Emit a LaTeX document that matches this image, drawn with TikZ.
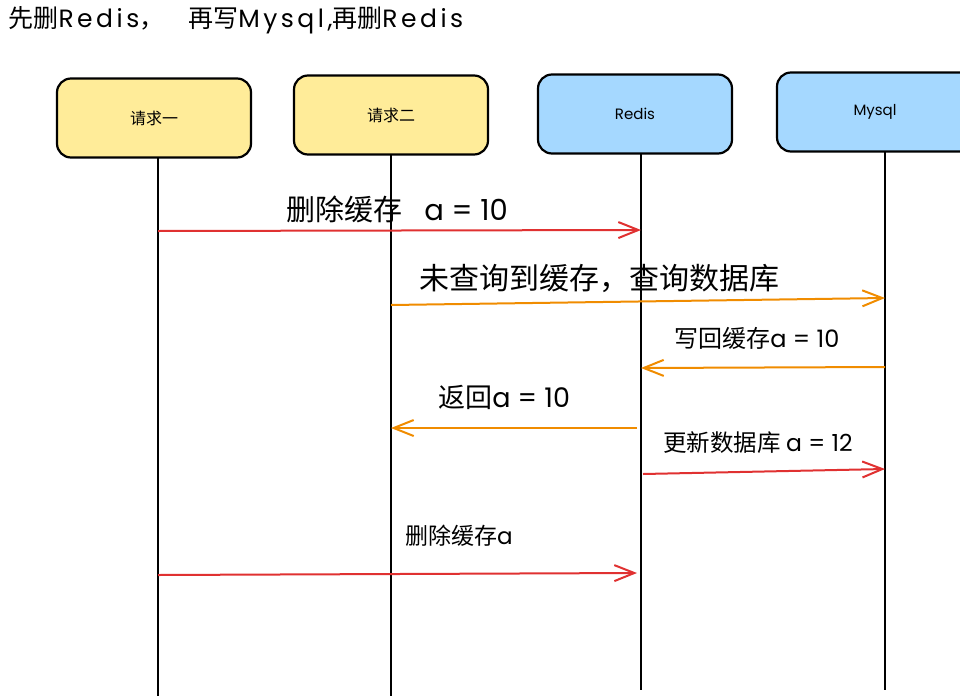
\documentclass[tikz,border=0pt]{standalone}
\usepackage{fontspec}
\setmainfont{Noto Sans CJK SC}
\newfontfamily\handlat{Poppins}
\newfontfamily\handlatwide{Poppins}[LetterSpace=14]
\usetikzlibrary{arrows.meta}
\definecolor{boxyellow}{HTML}{FFEC99}
\definecolor{boxblue}{HTML}{A5D8FF}
\definecolor{msgred}{HTML}{E03131}
\definecolor{msgorange}{HTML}{F08C00}
\begin{document}
\begin{tikzpicture}[x=1pt, y=-1pt]
	\tikzstyle{box_yellow} = [rectangle, rounded corners=14pt, draw=black, line width=2.2pt, fill=boxyellow, minimum width=194pt, minimum height=79pt, font=\fontsize{16}{16}\selectfont]
	\tikzstyle{box_blue} = [rectangle, rounded corners=14pt, draw=black, line width=2.2pt, fill=boxblue, minimum width=194pt, minimum height=79pt, font=\fontsize{15}{15}\selectfont\handlat]
	\tikzstyle{lifeline} = [draw=black, line width=2.2pt]
	\tikzstyle{msg_red} = [draw=msgred, line width=2pt, -{Straight Barb[length=20pt, width=16pt]}]
	\tikzstyle{msg_orange} = [draw=msgorange, line width=2pt, -{Straight Barb[length=20pt, width=16pt]}]

	\useasboundingbox (0,0) rectangle (960,696);

	\node[anchor=west, font=\fontsize{25}{25}\selectfont] (title) at (5,20) {先删{\handlatwide Redis}，\hspace{24pt}再写{\handlatwide Mysql,}再删{\handlatwide Redis}};

%------------------------------------------------------------
	\node[box_yellow] (req1)  at (154,118) {请求一};
	\node[box_yellow] (req2)  at (391,115) {请求二};
	\node[box_blue]   (redis) at (635,114) {Redis};
	\node[box_blue, minimum width=196pt] (mysql) at (875,112) {Mysql};

	\coordinate (req1_top)  at (158,158);  \coordinate (req1_end)  at (158,696);
	\coordinate (req2_top)  at (391,155);  \coordinate (req2_end)  at (391,696);
	\coordinate (redis_top) at (641,153);  \coordinate (redis_end) at (641,690);
	\coordinate (mysql_top) at (885,152);  \coordinate (mysql_end) at (885,690);

	\path[lifeline] (req1_top)  -- (req1_end);
	\path[lifeline] (req2_top)  -- (req2_end);
	\path[lifeline] (redis_top) -- (redis_end);
	\path[lifeline] (mysql_top) -- (mysql_end);

%------------------------------------------------------------
	\coordinate (req1_m1)  at (158,231);
	\coordinate (redis_m1) at (641,230);
	\path (req1_m1) edge[msg_red] node[pos=0.495, yshift=21pt, font=\fontsize{29}{29}\selectfont] {删除缓存\hspace{22pt}{\handlat a = 10}} (redis_m1);

	\coordinate (req2_m2)  at (391,305);
	\coordinate (mysql_m2) at (885,298);
	\path (req2_m2) edge[msg_orange] node[pos=0.423, yshift=24pt, font=\fontsize{30}{30}\selectfont] {未查询到缓存，查询数据库} (mysql_m2);

	\coordinate (mysql_m3) at (885,367);
	\coordinate (redis_m3) at (641,368);
	\path (mysql_m3) edge[msg_orange] node[pos=0.525, yshift=29pt, font=\fontsize{24}{24}\selectfont] {写回缓存{\handlat a = 10}} (redis_m3);

	\coordinate (redis_m4) at (637,428);
	\coordinate (req2_m4)  at (391,428);
	\path (redis_m4) edge[msg_orange] node[pos=0.54, yshift=31pt, font=\fontsize{27}{27}\selectfont] {返回{\handlat a = 10}} (req2_m4);

	\coordinate (redis_m5) at (643,474);
	\coordinate (mysql_m5) at (885,469);
	\path (redis_m5) edge[msg_red] node[pos=0.475, yshift=29pt, font=\fontsize{23.5}{23.5}\selectfont] {更新数据库 {\handlat a = 12}} (mysql_m5);

	\coordinate (req1_m6)  at (158,575);
	\coordinate (redis_m6) at (637,573);
	\path (req1_m6) edge[msg_red] node[pos=0.628, yshift=38pt, font=\fontsize{23}{23}\selectfont] {删除缓存{\handlat a}} (redis_m6);
%------------------------------------------------------------
\end{tikzpicture}
\end{document}
